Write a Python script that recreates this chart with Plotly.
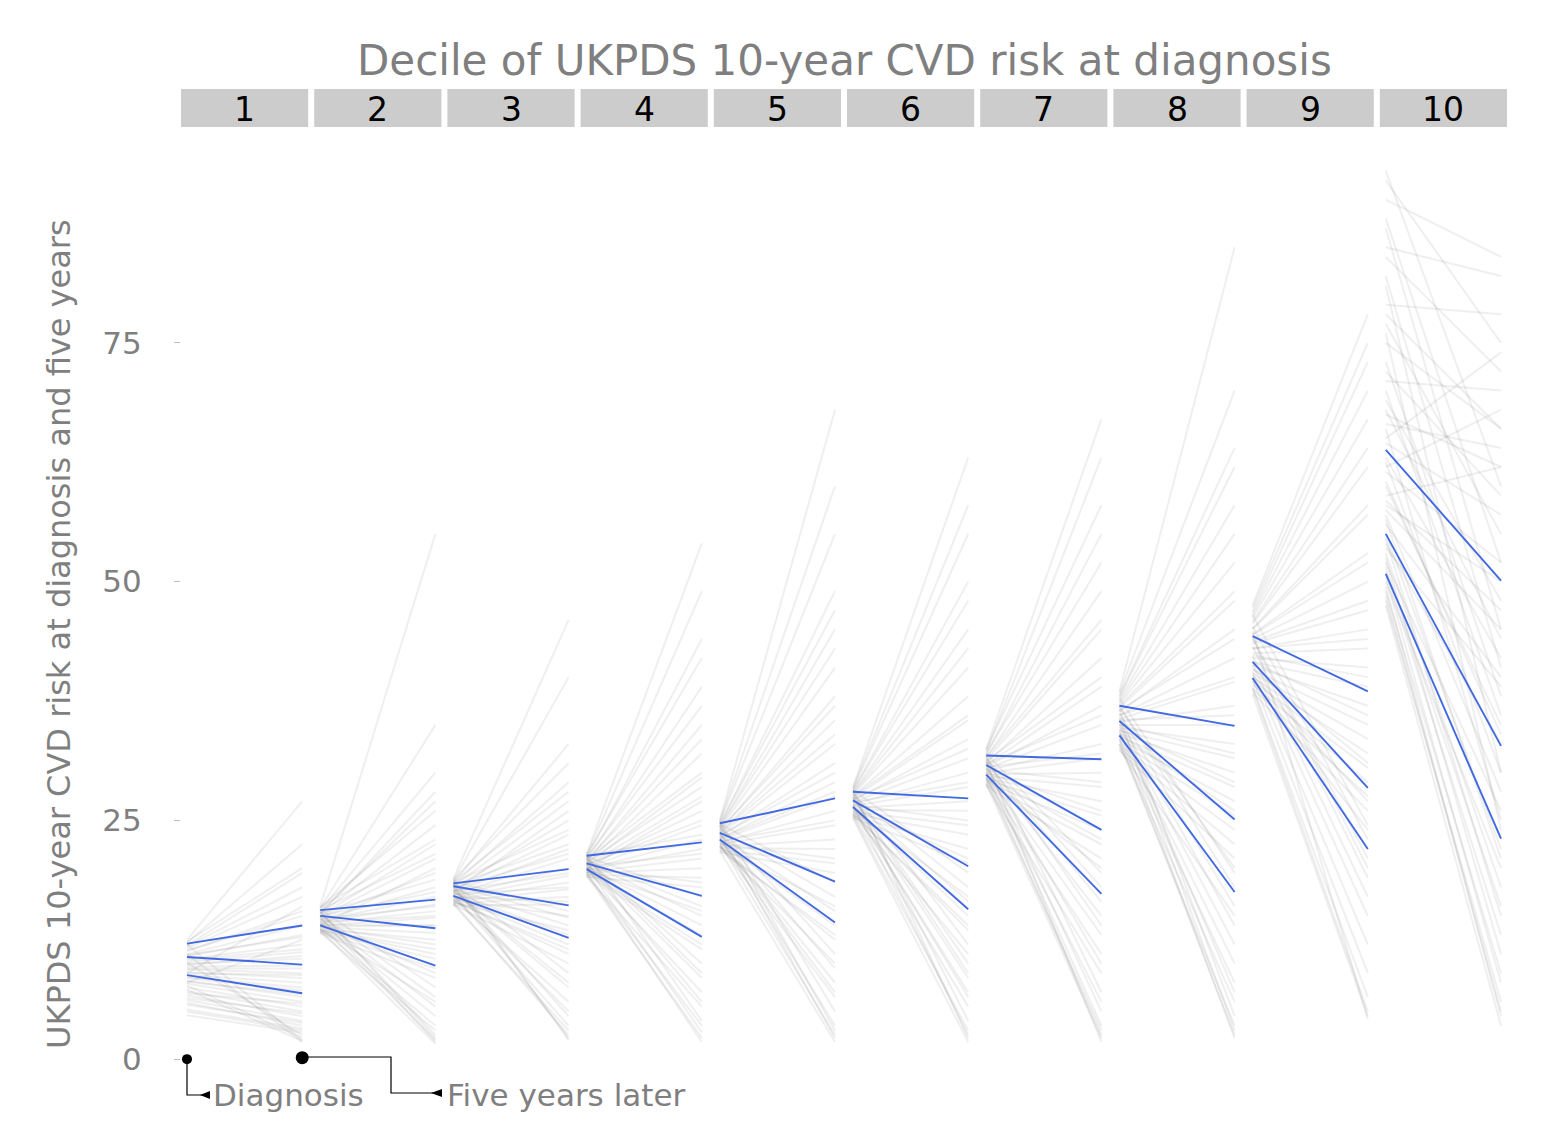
import plotly.graph_objects as go

# ---------------- data ----------------
deciles = ["1", "2", "3", "4", "5", "6", "7", "8", "9", "10"]

# individual patient trajectories (risk at diagnosis, risk five years later), per decile
diag_1 = [12.5, 12.2, 11.9, 11.6, 11.3, 11.0, 10.8, 10.5, 10.2, 10.0, 9.7, 9.4, 9.1, 8.8, 8.5, 8.2, 7.9, 7.5, 7.1, 6.7, 6.2, 5.7, 5.2, 4.6, 12.0, 11.0, 10.1, 9.0, 12.3, 8.0,
          11.8, 11.4, 10.9, 10.4, 9.9, 9.5, 9.0, 8.6, 8.1, 7.7, 7.3, 6.9, 6.4, 5.9, 5.0]
five_1 = [27.0, 22.5, 19.5, 17.0, 15.5, 14.0, 13.0, 12.0, 11.2, 10.5, 9.8, 9.0, 8.5, 8.0, 7.2, 6.5, 6.0, 5.5, 5.0, 4.5, 4.0, 3.8, 3.2, 2.8, 2.0, 1.8, 2.5, 16.0, 20.0, 12.5,
          18.0, 15.0, 12.8, 11.5, 10.8, 9.5, 8.8, 7.5, 6.8, 2.2, 1.9, 5.8, 4.8, 3.5, 3.0]
diag_2 = [16.0, 15.8, 15.6, 15.4, 15.2, 15.0, 14.9, 14.8, 14.6, 14.5, 14.4, 14.2, 14.0, 13.9, 13.8, 13.6, 13.5, 13.4, 13.3, 13.2, 15.7, 15.1, 14.7, 14.3, 13.7, 15.5, 14.1, 13.5, 15.9, 14.0,
          15.9, 15.6, 15.3, 15.0, 14.7, 14.4, 14.1, 13.8, 13.5, 13.3, 15.4, 14.9, 14.2, 13.6, 15.2]
five_2 = [55.0, 35.0, 30.0, 27.0, 24.5, 22.5, 21.0, 19.5, 18.0, 17.0, 16.2, 15.5, 14.8, 14.0, 13.2, 12.5, 11.5, 10.5, 9.5, 8.5, 7.5, 6.5, 5.5, 4.5, 3.5, 2.5, 2.0, 1.6, 26.0, 20.0,
          23.0, 21.5, 18.8, 17.5, 16.0, 15.0, 14.0, 12.0, 11.0, 3.0, 2.2, 1.8, 9.0, 6.0, 28.0]
diag_3 = [18.9, 18.7, 18.5, 18.3, 18.1, 17.9, 17.7, 17.5, 17.3, 17.1, 16.9, 16.7, 16.5, 16.3, 16.1, 18.6, 18.2, 17.8, 17.4, 17.0, 16.6, 16.2, 18.4, 17.6, 16.8, 18.0, 17.2, 16.4, 18.8, 17.5,
          18.8, 18.5, 18.2, 17.9, 17.6, 17.3, 17.0, 16.7, 16.4, 16.2, 18.3, 17.7, 17.1, 16.5, 18.6]
five_3 = [46.0, 40.0, 33.0, 29.0, 27.0, 25.0, 23.5, 22.0, 21.0, 20.0, 19.2, 18.5, 17.8, 17.0, 16.2, 15.5, 14.8, 14.0, 13.0, 12.0, 11.0, 10.0, 9.0, 7.5, 6.0, 4.5, 3.5, 2.5, 2.0, 26.0,
          31.0, 24.0, 22.5, 21.5, 19.5, 18.0, 16.5, 15.0, 13.5, 3.0, 2.2, 8.0, 5.0, 11.5, 28.0]
diag_4 = [21.5, 21.3, 21.1, 20.9, 20.7, 20.5, 20.4, 20.3, 20.2, 20.0, 19.9, 19.8, 19.6, 19.5, 19.3, 19.1, 21.2, 20.8, 20.6, 20.1, 19.7, 19.4, 21.0, 20.5, 19.9, 19.2, 21.4, 20.2, 19.6, 20.9,
          21.4, 21.1, 20.8, 20.6, 20.4, 20.2, 20.0, 19.8, 19.6, 19.4, 19.2, 21.0, 20.5, 19.9, 21.3]
five_4 = [54.0, 49.0, 44.0, 39.0, 35.0, 32.0, 29.5, 27.5, 26.0, 24.5, 23.0, 22.0, 21.0, 20.0, 19.0, 18.0, 17.0, 16.0, 15.0, 14.0, 13.0, 11.5, 10.0, 8.5, 7.0, 5.5, 4.0, 2.8, 1.8, 30.0,
          42.0, 37.0, 33.5, 28.5, 25.0, 21.5, 18.5, 15.5, 12.0, 3.5, 2.2, 9.0, 6.0, 27.0, 23.5]
diag_5 = [25.0, 24.8, 24.5, 24.3, 24.1, 23.9, 23.7, 23.5, 23.3, 23.1, 22.9, 22.7, 22.5, 22.3, 22.1, 21.9, 21.7, 24.6, 24.0, 23.4, 22.8, 22.2, 24.4, 23.6, 23.0, 22.4, 24.9, 23.2, 22.6, 21.8,
          24.9, 24.6, 24.3, 24.0, 23.7, 23.4, 23.1, 22.8, 22.5, 22.2, 21.9, 24.5, 23.8, 23.0, 22.3]
five_5 = [68.0, 55.0, 49.0, 45.0, 41.0, 38.0, 35.5, 33.0, 31.0, 29.0, 27.5, 26.0, 24.5, 23.0, 22.0, 20.5, 19.5, 18.5, 17.0, 15.5, 14.0, 12.5, 11.0, 9.5, 8.0, 6.5, 5.0, 3.5, 2.5, 1.8,
          60.0, 47.0, 43.0, 37.0, 34.0, 30.0, 28.0, 25.0, 21.0, 16.0, 13.0, 3.0, 2.2, 7.0, 10.0]
diag_6 = [28.5, 28.3, 28.1, 27.9, 27.7, 27.5, 27.3, 27.1, 26.9, 26.7, 26.5, 26.3, 26.1, 25.9, 25.7, 25.5, 25.3, 28.2, 27.6, 27.0, 26.4, 25.8, 28.0, 27.4, 26.8, 26.2, 25.6, 27.8, 26.6, 25.2,
          28.4, 28.1, 27.8, 27.5, 27.2, 26.9, 26.6, 26.3, 26.0, 25.7, 25.4, 28.2, 27.4, 26.5, 25.6]
five_6 = [63.0, 55.0, 48.0, 45.0, 41.0, 38.0, 35.5, 33.5, 31.5, 30.0, 28.5, 27.0, 26.0, 24.5, 23.5, 22.0, 20.5, 19.5, 18.0, 16.5, 15.0, 13.5, 12.0, 10.0, 8.5, 7.0, 5.5, 4.0, 2.5, 1.8,
          58.0, 50.0, 43.0, 36.0, 32.5, 29.0, 25.0, 21.0, 17.0, 14.0, 3.0, 2.2, 9.0, 6.5, 11.0]
diag_7 = [32.5, 32.2, 31.9, 31.6, 31.3, 31.0, 30.8, 30.6, 30.4, 30.2, 30.0, 29.8, 29.6, 29.4, 29.2, 29.0, 28.8, 28.6, 32.0, 31.5, 31.1, 30.5, 29.9, 29.3, 28.7, 31.8, 30.9, 30.1, 29.5, 31.2,
          32.4, 32.0, 31.6, 31.2, 30.9, 30.6, 30.3, 30.0, 29.7, 29.4, 29.1, 28.8, 31.4, 30.4, 29.6]
five_7 = [67.0, 63.0, 55.0, 49.0, 45.0, 42.0, 39.0, 37.0, 35.0, 33.0, 31.5, 30.0, 28.5, 27.0, 25.5, 24.0, 22.5, 21.0, 19.5, 18.0, 16.5, 15.0, 13.0, 11.0, 9.0, 7.0, 5.0, 3.5, 2.5, 1.8,
          58.0, 52.0, 46.0, 40.0, 36.0, 32.0, 29.0, 26.0, 23.0, 20.0, 3.0, 2.2, 14.0, 10.0, 6.0]
diag_8 = [38.5, 38.0, 37.6, 37.2, 36.8, 36.4, 36.0, 35.6, 35.3, 35.0, 34.7, 34.4, 34.1, 33.8, 33.5, 33.2, 32.9, 32.6, 32.3, 37.8, 37.0, 36.2, 35.5, 34.9, 34.2, 33.6, 33.0, 36.6, 35.8, 34.5,
          38.3, 37.9, 37.4, 37.0, 36.5, 36.0, 35.5, 35.0, 34.5, 34.0, 33.5, 33.0, 32.5, 36.8, 35.2]
five_8 = [85.0, 64.0, 58.0, 52.0, 48.0, 45.0, 42.0, 39.5, 37.0, 35.0, 33.0, 31.5, 30.0, 28.5, 27.0, 25.5, 24.0, 22.5, 21.0, 19.5, 18.0, 16.0, 14.0, 12.0, 10.0, 8.0, 6.0, 4.5, 3.0, 2.2,
          70.0, 62.0, 55.0, 49.0, 44.0, 40.0, 36.0, 32.0, 29.0, 26.0, 2.5, 3.5, 15.0, 20.0, 7.0]
diag_9 = [47.5, 46.8, 46.2, 45.6, 45.0, 44.5, 44.0, 43.5, 43.0, 42.5, 42.0, 41.6, 41.2, 40.8, 40.4, 40.0, 39.6, 39.2, 38.8, 38.4, 46.5, 45.3, 44.2, 43.2, 42.2, 41.4, 40.6, 39.8, 39.0, 44.8,
          47.2, 46.5, 45.8, 45.1, 44.4, 43.7, 43.0, 42.3, 41.6, 40.9, 40.2, 39.5, 38.8, 38.2, 44.0]
five_9 = [78.0, 73.0, 67.0, 62.0, 57.0, 53.0, 50.0, 47.0, 45.0, 43.0, 41.0, 39.0, 37.0, 35.0, 33.5, 32.0, 30.5, 29.0, 27.5, 26.0, 24.5, 23.0, 21.0, 19.0, 17.0, 15.0, 12.0, 9.0, 6.5, 4.2,
          75.0, 70.0, 64.0, 58.0, 52.0, 48.0, 44.0, 40.0, 36.0, 31.0, 27.0, 24.0, 5.0, 4.5, 20.0]
diag_10 = [93.0, 90.0, 87.0, 84.0, 81.0, 79.0, 77.0, 75.0, 73.0, 71.0, 69.0, 67.5, 66.0, 64.5, 63.0, 61.5, 60.0, 58.5, 57.0, 56.0, 55.0, 54.0, 53.0, 52.0, 51.0, 50.0, 49.0, 48.0, 47.5, 62.0, 58.0, 54.5, 70.0, 66.5, 52.5, 49.5,
           92.0, 88.0, 85.0, 82.0, 78.0, 76.0, 72.0, 68.0, 65.0, 62.5, 59.0, 56.5, 53.5, 51.5, 50.5, 48.5, 60.5, 57.5]
five_10 = [60.0, 84.0, 45.0, 72.0, 30.0, 78.0, 55.0, 66.0, 38.0, 70.0, 48.0, 62.0, 25.0, 57.0, 42.0, 52.0, 35.0, 47.0, 28.0, 40.0, 22.0, 33.0, 18.0, 26.0, 13.0, 20.0, 9.0, 6.0, 3.5, 68.0, 50.0, 15.0, 36.0, 64.0, 11.0, 4.5,
           75.0, 52.0, 82.0, 41.0, 66.0, 24.0, 59.0, 44.0, 74.0, 30.0, 62.0, 21.0, 39.0, 16.0, 8.0, 5.0, 34.0, 45.0]

diag_values = [diag_1, diag_2, diag_3, diag_4, diag_5, diag_6, diag_7, diag_8, diag_9, diag_10]
five_values = [five_1, five_2, five_3, five_4, five_5, five_6, five_7, five_8, five_9, five_10]

# summary (blue) lines per decile
blue_top_diag = [12.1, 15.6, 18.4, 21.3, 24.7, 28.0, 31.8, 37.0, 44.3, 63.8]
blue_top_five = [14.0, 16.7, 19.9, 22.7, 27.3, 27.3, 31.4, 34.9, 38.5, 50.1]
blue_mid_diag = [10.7, 15.0, 18.1, 20.5, 23.7, 27.1, 30.8, 35.4, 41.6, 55.0]
blue_mid_five = [9.9, 13.7, 16.1, 17.1, 18.6, 20.2, 24.0, 25.1, 28.4, 32.8]
blue_low_diag = [8.8, 14.0, 17.1, 19.9, 23.0, 26.4, 29.8, 33.9, 39.9, 50.8]
blue_low_five = [6.9, 9.8, 12.7, 12.8, 14.3, 15.7, 17.3, 17.5, 22.0, 23.1]

y_ticks = [0, 25, 50, 75]
title_text = "Decile of UKPDS 10-year CVD risk at diagnosis"
y_title = "UKPDS 10-year CVD risk at diagnosis and five years"

# ---------------- layout geometry ----------------
# page body adds an 8px margin, so the figure is made 16px smaller and positions shifted
OFF = 8
W, H = 1542 - 2 * OFF, 1122 - 2 * OFF
L, R, T, B = 181 - OFF, 1507 - OFF, 127 - OFF, 1105 - OFF
PW = R - L
PH = B - T
n = len(deciles)
gap = 6
panel_w = (PW - gap * (n - 1)) / n

def px(xp):  # screen pixel x -> paper
    return (xp - OFF - L) / PW

def py(yp):  # screen pixel y -> paper
    return (B - (yp - OFF)) / PH

FONT = "DejaVu Sans"
GREY = "#7f7f7f"

fig = go.Figure()
layout_axes = {}
shapes = []
annotations = []

for i in range(n):
    xa = "x" if i == 0 else f"x{i+1}"
    ya = "y" if i == 0 else f"y{i+1}"
    xs, ys = [], []
    for d, f in zip(diag_values[i], five_values[i]):
        xs += [0, 1, None]
        ys += [d, f, None]
    fig.add_trace(go.Scatter(x=xs, y=ys, mode="lines", xaxis=xa, yaxis=ya,
                             line=dict(color="rgba(95,95,95,0.10)", width=2),
                             hoverinfo="skip", showlegend=False))
    for dv, fv in ((blue_top_diag, blue_top_five), (blue_mid_diag, blue_mid_five), (blue_low_diag, blue_low_five)):
        fig.add_trace(go.Scatter(x=[0, 1], y=[dv[i], fv[i]], mode="lines", xaxis=xa, yaxis=ya,
                                 line=dict(color="#4169e1", width=1.9), showlegend=False))
    x0 = i * (panel_w + gap)
    x1 = x0 + panel_w
    dom = [x0 / PW, x1 / PW]
    layout_axes["xaxis" if i == 0 else f"xaxis{i+1}"] = dict(
        domain=dom, range=[-0.052, 1.052], anchor=ya, visible=False, fixedrange=True)
    yax = dict(domain=[0, 1], range=[-4.8, 97.6], anchor=xa, showgrid=False, zeroline=False,
               showline=False, fixedrange=True)
    if i == 0:
        yax.update(tickvals=y_ticks, ticktext=[str(v) for v in y_ticks], ticks="outside",
                   ticklen=6, tickcolor="#bbbbbb", tickwidth=1, ticklabelstandoff=26,
                   tickfont=dict(family=FONT, size=31, color=GREY))
    else:
        yax.update(matches="y", showticklabels=False, ticks="")
    layout_axes["yaxis" if i == 0 else f"yaxis{i+1}"] = yax
    # strip
    shapes.append(dict(type="rect", xref="paper", yref="paper", x0=dom[0], x1=dom[1],
                       y0=py(127), y1=py(89), fillcolor="#cccccc", line=dict(width=0), layer="below"))
    annotations.append(dict(text=deciles[i], xref="paper", yref="paper", x=(dom[0] + dom[1]) / 2,
                            y=py(109), showarrow=False, xanchor="center", yanchor="middle",
                            font=dict(family=FONT, size=33, color="black")))

# annotation markers at diagnosis and five years (panel 1)
fig.add_trace(go.Scatter(x=[0], y=[0], mode="markers", xaxis="x", yaxis="y", cliponaxis=False,
                         marker=dict(color="black", size=10), showlegend=False))
fig.add_trace(go.Scatter(x=[1], y=[0.15], mode="markers", xaxis="x", yaxis="y", cliponaxis=False,
                         marker=dict(color="black", size=13), showlegend=False))

# bracket connectors
brk = dict(color="black", width=1.2)
shapes.append(dict(type="path", xref="paper", yref="paper",
                   path=f"M {px(187)},{py(1060)} L {px(187)},{py(1095)} L {px(206)},{py(1095)}",
                   line=brk))
shapes.append(dict(type="path", xref="paper", yref="paper",
                   path=f"M {px(302)},{py(1057)} L {px(391)},{py(1057)} L {px(391)},{py(1093)} L {px(436)},{py(1093)}",
                   line=brk))
# arrowheads (small left-pointing triangles)
shapes.append(dict(type="path", xref="paper", yref="paper",
                   path=f"M {px(200)},{py(1095)} L {px(210)},{py(1091)} L {px(210)},{py(1099)} Z",
                   fillcolor="black", line=dict(width=0)))
shapes.append(dict(type="path", xref="paper", yref="paper",
                   path=f"M {px(431)},{py(1093)} L {px(442)},{py(1089)} L {px(442)},{py(1097)} Z",
                   fillcolor="black", line=dict(width=0)))
annotations.append(dict(text="Diagnosis", xref="paper", yref="paper", x=px(211), y=py(1095),
                        xanchor="left", yanchor="middle", showarrow=False,
                        font=dict(family=FONT, size=31, color=GREY)))
annotations.append(dict(text="Five years later", xref="paper", yref="paper", x=px(445), y=py(1095),
                        xanchor="left", yanchor="middle", showarrow=False,
                        font=dict(family=FONT, size=31, color=GREY)))

# title and y-axis title
annotations.append(dict(text=title_text, xref="paper", yref="paper", x=0.5, y=py(61),
                        xanchor="center", yanchor="middle", showarrow=False,
                        font=dict(family=FONT, size=42, color=GREY)))
annotations.append(dict(text=y_title, xref="paper", yref="paper", x=px(59), y=py(634),
                        xanchor="center", yanchor="middle", showarrow=False, textangle=-90,
                        font=dict(family=FONT, size=32, color=GREY)))

fig.update_layout(width=W, height=H, margin=dict(l=L, r=W - R, t=T, b=H - B, autoexpand=False),
                  plot_bgcolor="white", paper_bgcolor="white", showlegend=False,
                  shapes=shapes, annotations=annotations, **layout_axes)

fig.write_html("out.html")
